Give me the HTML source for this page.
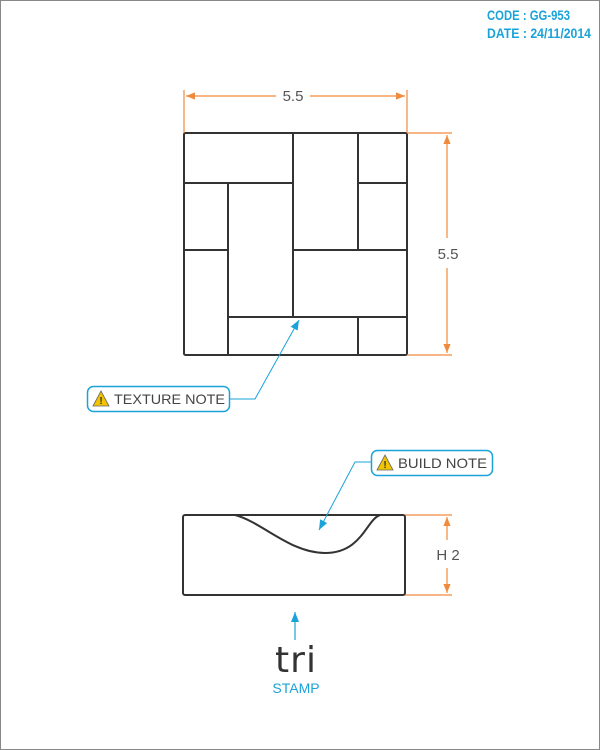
<!DOCTYPE html>
<html><head><meta charset="utf-8"><style>
html,body{margin:0;padding:0;background:#fff}
svg{display:block;font-family:"Liberation Sans",sans-serif}
</style></head><body>
<svg width="600" height="750" viewBox="0 0 600 750">
<defs>
<marker id="ao" viewBox="0 0 10 10" refX="10" refY="5" markerWidth="9" markerHeight="9" orient="auto-start-reverse" markerUnits="userSpaceOnUse"><path d="M0,1 L10,5 L0,9z" fill="#f08a3c"/></marker>
<marker id="ab" viewBox="0 0 10 10" refX="10" refY="5" markerWidth="10" markerHeight="10" orient="auto" markerUnits="userSpaceOnUse"><path d="M0,1 L10,5 L0,9z" fill="#1aa3d9"/></marker>
</defs>
<rect x="0.5" y="0.5" width="599" height="749" fill="none" stroke="#888"/>
<g fill="#1aa3d9" font-size="14" font-weight="bold">
<text x="487" y="20" textLength="83" lengthAdjust="spacingAndGlyphs">CODE : GG-953</text>
<text x="487" y="38" textLength="104" lengthAdjust="spacingAndGlyphs">DATE : 24/11/2014</text>
</g>
<g stroke="#333" stroke-width="2" fill="none">
<rect x="184" y="133" width="223" height="222" rx="1.5"/>
<path d="M293,133V317 M358,133V249 M358,317V355 M228,183V355 M184,183H293 M358,183H407 M184,250H228 M293,250H407 M228,317H407"/>
</g>
<g stroke="#f08a3c" stroke-width="1.2" fill="none">
<path d="M184,133V90 M407,133V90"/>
<line x1="186" y1="96" x2="276" y2="96" marker-start="url(#ao)"/>
<line x1="310" y1="96" x2="405" y2="96" marker-end="url(#ao)"/>
<path d="M407,133H452 M407,355H452"/>
<line x1="447" y1="135" x2="447" y2="238" marker-start="url(#ao)"/>
<line x1="447" y1="268" x2="447" y2="353" marker-end="url(#ao)"/>
<path d="M405,515H452 M405,595H452"/>
<line x1="447" y1="517" x2="447" y2="540" marker-start="url(#ao)"/>
<line x1="447" y1="568" x2="447" y2="593" marker-end="url(#ao)"/>
</g>
<g fill="#555" font-size="15">
<text x="293" y="101" text-anchor="middle">5.5</text>
<text x="448" y="259" text-anchor="middle">5.5</text>
<text x="448" y="560" text-anchor="middle">H 2</text>
</g>
<g>
<rect x="87.5" y="386.5" width="142" height="25" rx="6" fill="#fff" stroke="#1aa3d9" stroke-width="1.5"/>
<path d="M93,406 L101,391 L109,406z" fill="#f2c400" stroke="#666" stroke-width="0.8"/>
<text x="101" y="404" font-size="10" font-weight="bold" text-anchor="middle" fill="#333">!</text>
<text x="114" y="404" font-size="14" fill="#444" textLength="111" lengthAdjust="spacingAndGlyphs">TEXTURE NOTE</text>
<polyline points="229,399 255,399 299,320" fill="none" stroke="#1aa3d9" stroke-width="1" marker-end="url(#ab)"/>
</g>
<g stroke="#333" stroke-width="2" fill="none">
<rect x="183" y="515" width="222" height="80" rx="2"/>
<path d="M235,515 C262,522 290,553 325,553 C362,553 366,520 380,515"/>
</g>
<g>
<rect x="371.5" y="450.5" width="121" height="25" rx="6" fill="#fff" stroke="#1aa3d9" stroke-width="1.5"/>
<path d="M377,470 L385,455 L393,470z" fill="#f2c400" stroke="#666" stroke-width="0.8"/>
<text x="385" y="468" font-size="10" font-weight="bold" text-anchor="middle" fill="#333">!</text>
<text x="398" y="468" font-size="14" fill="#444" textLength="89" lengthAdjust="spacingAndGlyphs">BUILD NOTE</text>
<polyline points="371,462 355,462 319,530" fill="none" stroke="#1aa3d9" stroke-width="1" marker-end="url(#ab)"/>
</g>
<g>
<line x1="295" y1="640" x2="295" y2="612" stroke="#1aa3d9" stroke-width="1.2" marker-end="url(#ab)"/>
<text x="296" y="672" font-size="36" text-anchor="middle" fill="#333" font-family="'DejaVu Sans',sans-serif" letter-spacing="1">tri</text>
<text x="296" y="693" font-size="14" text-anchor="middle" fill="#1aa3d9">STAMP</text>
</g>
</svg>
</body></html>
